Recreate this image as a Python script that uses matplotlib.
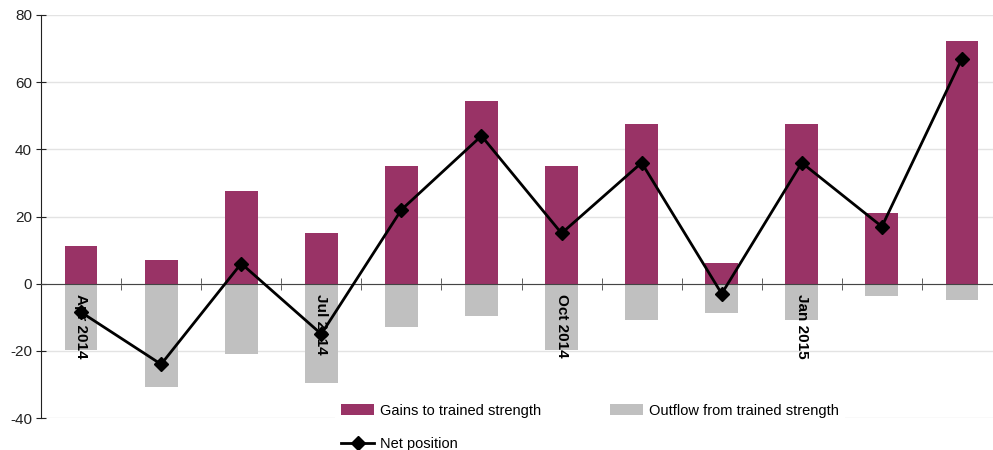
import numpy as np
import matplotlib.pyplot as plt

months = ["Apr 2014", "May 2014", "Jun 2014", "Jul 2014", "Aug 2014", "Sep 2014",
          "Oct 2014", "Nov 2014", "Dec 2014", "Jan 2015", "Feb 2015", "Mar 2015"]
gains = [11.2, 7.1, 27.6, 15.1, 35.0, 54.3, 35.0, 47.4, 6.2, 47.4, 21.0, 72.2]
outflow = [-19.7, -30.7, -20.9, -29.5, -12.8, -9.5, -19.7, -10.8, -8.6, -10.8, -3.6, -4.9]
net = [-8.5, -24, 6, -15, 22, 44, 15, 36, -3, 36, 17, 67]
shown_labels = ["Apr 2014", "Jul 2014", "Oct 2014", "Jan 2015"]

plt.rcParams['font.family'] = ['Liberation Sans', 'DejaVu Sans']
plt.rcParams['axes.unicode_minus'] = False

fig = plt.figure(figsize=(9.93, 4.5), dpi=100)
ax = fig.add_axes([41 / 993, 32 / 450, 961 / 993, 403 / 450])

x = np.arange(len(months))
g = ax.bar(x, gains, width=0.41, color="#993366", label="Gains to trained strength", zorder=2)
o = ax.bar(x, outflow, width=0.41, color="#c0c0c0", label="Outflow from trained strength", zorder=2)
n, = ax.plot(x, net, color="black", lw=2, marker="D", ms=7, label="Net position", zorder=4)

for i, m in enumerate(months):
    if m in shown_labels:
        ax.text(i, -3.2, m, rotation=270, ha="center", va="top",
                fontsize=11, fontweight="bold", zorder=3)

ax.set_xlim(-0.5, 11.5)
ax.set_ylim(-40, 80)
ax.set_yticks(range(-40, 81, 20))
ax.yaxis.grid(True, color="#e3e3e3", lw=1)
ax.set_axisbelow(True)
ax.tick_params(axis="y", direction="inout", length=7, labelsize=11, colors="#222222", pad=3)

ax.spines["right"].set_visible(False)
ax.spines["top"].set_visible(False)
ax.spines["bottom"].set_position(("data", 0))
ax.spines["bottom"].set_color("#444444")
ax.spines["bottom"].set_zorder(3)
ax.spines["left"].set_color("#222222")
ax.set_xticks([])
ax.set_xticks(np.arange(0.5, 11.5, 1), minor=True)
ax.tick_params(axis="x", which="minor", direction="inout", length=8, color="#444444")

# ncol=2 fills column by column: Gains / Net in the first, Outflow in the second
leg = fig.legend([g, n, o], [g.get_label(), n.get_label(), o.get_label()], ncol=2,
                 loc="upper left", bbox_to_anchor=(335 / 993, 1 - 398 / 450),
                 frameon=True, facecolor="white", edgecolor="none", framealpha=1,
                 fontsize=10.5, handlelength=2.3, handleheight=0.75, handletextpad=0.4,
                 columnspacing=4.7, labelspacing=1.3, borderaxespad=0, fancybox=False)

fig.savefig("out.png", dpi=100)
